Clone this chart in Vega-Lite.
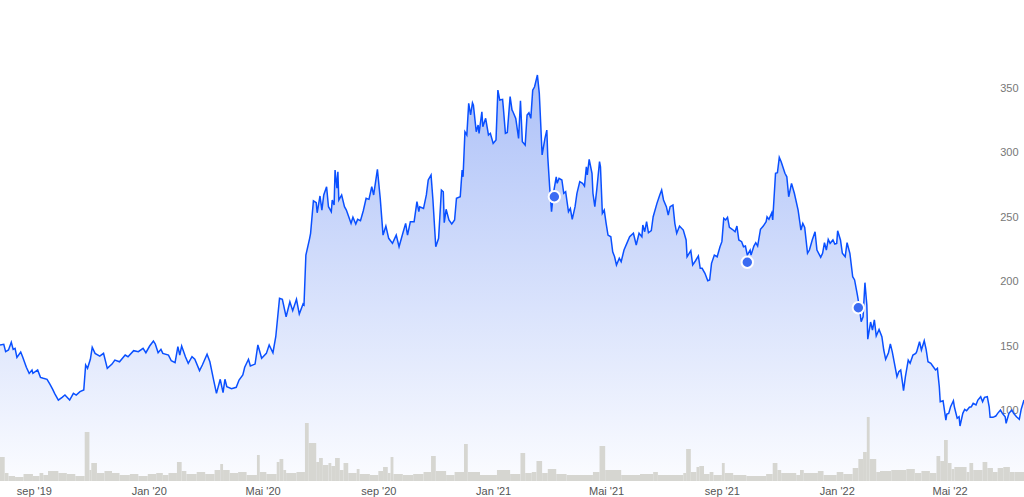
{
"$schema": "https://vega.github.io/schema/vega-lite/v6.json",
"width": 1024, "height": 481,
"autosize": {"type": "none"},
"padding": {"left": 0, "top": 0, "right": 0, "bottom": 16},
"background": "white",
"config": {"view": {"stroke": null}},
"datasets": {
"price": [
{"date":"2019-07-27","price":150.8},{"date":"2019-07-31","price":151.3},{"date":"2019-08-02","price":145.6},{"date":"2019-08-05","price":146.9},{"date":"2019-08-08","price":152.9},{"date":"2019-08-10","price":147.4},{"date":"2019-08-12","price":148.2},{"date":"2019-08-14","price":141.2},{"date":"2019-08-18","price":145.3},{"date":"2019-08-20","price":141.7},{"date":"2019-08-24","price":133.5},{"date":"2019-08-27","price":128.8},{"date":"2019-08-30","price":131.4},{"date":"2019-08-31","price":128.8},{"date":"2019-09-05","price":131.4},{"date":"2019-09-08","price":125.7},{"date":"2019-09-11","price":125.0},{"date":"2019-09-15","price":124.2},{"date":"2019-09-18","price":120.5},{"date":"2019-09-21","price":116.4},{"date":"2019-09-23","price":113.3},{"date":"2019-09-27","price":108.1},{"date":"2019-10-01","price":110.2},{"date":"2019-10-04","price":112.0},{"date":"2019-10-09","price":108.1},{"date":"2019-10-13","price":113.3},{"date":"2019-10-16","price":112.0},{"date":"2019-10-20","price":114.6},{"date":"2019-10-24","price":115.9},{"date":"2019-10-26","price":135.3},{"date":"2019-10-28","price":132.7},{"date":"2019-10-31","price":139.7},{"date":"2019-11-02","price":149.0},{"date":"2019-11-05","price":144.3},{"date":"2019-11-10","price":142.2},{"date":"2019-11-14","price":144.3},{"date":"2019-11-18","price":132.7},{"date":"2019-11-23","price":136.0},{"date":"2019-11-26","price":139.1},{"date":"2019-12-01","price":137.8},{"date":"2019-12-07","price":143.0},{"date":"2019-12-10","price":141.7},{"date":"2019-12-16","price":146.4},{"date":"2019-12-21","price":145.6},{"date":"2019-12-26","price":148.2},{"date":"2019-12-29","price":144.8},
{"date":"2020-01-02","price":150.0},{"date":"2020-01-06","price":153.9},{"date":"2020-01-08","price":151.6},{"date":"2020-01-11","price":144.8},{"date":"2020-01-14","price":147.4},{"date":"2020-01-16","price":144.3},{"date":"2020-01-22","price":143.0},{"date":"2020-01-25","price":138.6},{"date":"2020-01-29","price":137.1},{"date":"2020-02-01","price":149.5},{"date":"2020-02-03","price":143.0},{"date":"2020-02-05","price":150.0},{"date":"2020-02-09","price":141.7},{"date":"2020-02-12","price":136.6},{"date":"2020-02-16","price":141.7},{"date":"2020-02-19","price":139.7},{"date":"2020-02-24","price":130.9},{"date":"2020-02-27","price":135.3},{"date":"2020-03-03","price":143.6},{"date":"2020-03-06","price":137.8},{"date":"2020-03-10","price":123.6},{"date":"2020-03-13","price":113.3},{"date":"2020-03-17","price":124.2},{"date":"2020-03-20","price":113.8},{"date":"2020-03-22","price":124.2},{"date":"2020-03-24","price":118.4},{"date":"2020-03-29","price":116.9},{"date":"2020-04-03","price":118.0},{"date":"2020-04-06","price":123.6},{"date":"2020-04-10","price":127.5},{"date":"2020-04-12","price":133.5},{"date":"2020-04-16","price":139.7},{"date":"2020-04-18","price":134.5},{"date":"2020-04-23","price":136.0},{"date":"2020-04-26","price":150.8},{"date":"2020-04-30","price":140.5},{"date":"2020-05-05","price":144.3},{"date":"2020-05-08","price":150.8},{"date":"2020-05-12","price":144.8},{"date":"2020-05-15","price":157.2},{"date":"2020-05-19","price":187.0},{"date":"2020-05-22","price":186.2},{"date":"2020-05-26","price":172.7},{"date":"2020-05-30","price":184.3},{"date":"2020-06-02","price":177.4},{"date":"2020-06-06","price":186.2},{"date":"2020-06-09","price":174.8},{"date":"2020-06-13","price":182.6},{"date":"2020-06-14","price":181.8},{"date":"2020-06-16","price":220.5},{"date":"2020-06-20","price":233.5},{"date":"2020-06-21","price":237.4},{"date":"2020-06-24","price":262.6},{"date":"2020-06-27","price":261.1},{"date":"2020-06-28","price":253.3},{"date":"2020-07-01","price":266.3},{"date":"2020-07-03","price":255.4},{"date":"2020-07-05","price":267.1},{"date":"2020-07-08","price":273.5},{"date":"2020-07-10","price":258.0},{"date":"2020-07-13","price":254.1},{"date":"2020-07-14","price":263.2},{"date":"2020-07-16","price":259.3},{"date":"2020-07-17","price":286.4},{"date":"2020-07-19","price":272.3},{"date":"2020-07-20","price":285.1},{"date":"2020-07-21","price":263.2},{"date":"2020-07-24","price":267.1},{"date":"2020-07-27","price":258.0},{"date":"2020-07-29","price":255.4},{"date":"2020-08-03","price":245.1},{"date":"2020-08-05","price":249.8},{"date":"2020-08-08","price":244.6},{"date":"2020-08-10","price":248.2},{"date":"2020-08-13","price":247.1},{"date":"2020-08-16","price":254.9},{"date":"2020-08-19","price":264.5},{"date":"2020-08-22","price":263.7},{"date":"2020-08-25","price":273.5},{"date":"2020-08-27","price":267.1},{"date":"2020-08-31","price":287.0},{"date":"2020-09-03","price":264.5},{"date":"2020-09-06","price":236.0},{"date":"2020-09-09","price":243.0},{"date":"2020-09-12","price":233.5},{"date":"2020-09-16","price":229.6},{"date":"2020-09-20","price":236.0},{"date":"2020-09-23","price":227.0},{"date":"2020-09-27","price":237.4},{"date":"2020-09-30","price":245.1},{"date":"2020-10-02","price":236.0},{"date":"2020-10-05","price":246.4},{"date":"2020-10-09","price":246.4},{"date":"2020-10-12","price":261.9},{"date":"2020-10-14","price":254.1},{"date":"2020-10-15","price":258.0},{"date":"2020-10-19","price":256.7},{"date":"2020-10-22","price":267.1},{"date":"2020-10-24","price":278.7},{"date":"2020-10-27","price":282.6},{"date":"2020-10-29","price":263.2},{"date":"2020-11-01","price":227.0},{"date":"2020-11-04","price":233.5},{"date":"2020-11-07","price":270.9},{"date":"2020-11-09","price":269.6},{"date":"2020-11-10","price":245.6},{"date":"2020-11-12","price":256.0},{"date":"2020-11-15","price":247.7},{"date":"2020-11-18","price":244.6},{"date":"2020-11-21","price":247.7},{"date":"2020-11-23","price":264.5},{"date":"2020-11-27","price":265.7},{"date":"2020-11-29","price":286.4},{"date":"2020-11-30","price":281.2},{"date":"2020-12-02","price":316.1},{"date":"2020-12-04","price":313.6},{"date":"2020-12-06","price":338.1},{"date":"2020-12-08","price":329.1},{"date":"2020-12-10","price":338.6},{"date":"2020-12-11","price":336.8},{"date":"2020-12-14","price":316.1},{"date":"2020-12-16","price":321.3},{"date":"2020-12-17","price":314.9},{"date":"2020-12-20","price":331.6},{"date":"2020-12-21","price":320.0},{"date":"2020-12-24","price":326.5},{"date":"2020-12-27","price":313.6},{"date":"2020-12-29","price":314.9},
{"date":"2021-01-01","price":307.1},{"date":"2021-01-04","price":309.7},{"date":"2021-01-06","price":348.4},{"date":"2021-01-08","price":340.7},{"date":"2021-01-11","price":341.2},{"date":"2021-01-12","price":333.0},{"date":"2021-01-14","price":314.9},{"date":"2021-01-16","price":315.5},{"date":"2021-01-19","price":343.3},{"date":"2021-01-21","price":333.0},{"date":"2021-01-22","price":331.6},{"date":"2021-01-25","price":326.5},{"date":"2021-01-28","price":311.0},{"date":"2021-01-30","price":340.2},{"date":"2021-02-01","price":308.4},{"date":"2021-02-04","price":305.8},{"date":"2021-02-06","price":329.1},{"date":"2021-02-08","price":330.9},{"date":"2021-02-10","price":326.5},{"date":"2021-02-12","price":348.4},{"date":"2021-02-14","price":351.0},{"date":"2021-02-17","price":360.1},{"date":"2021-02-19","price":345.9},{"date":"2021-02-20","price":330.4},{"date":"2021-02-22","price":298.1},{"date":"2021-02-25","price":311.0},{"date":"2021-02-27","price":317.4},{"date":"2021-02-28","price":296.7},{"date":"2021-03-02","price":273.5},{"date":"2021-03-04","price":254.1},{"date":"2021-03-06","price":268.4},{"date":"2021-03-09","price":281.2},{"date":"2021-03-10","price":276.1},{"date":"2021-03-12","price":280.0},{"date":"2021-03-15","price":278.7},{"date":"2021-03-17","price":268.4},{"date":"2021-03-19","price":269.6},{"date":"2021-03-22","price":254.1},{"date":"2021-03-24","price":256.7},{"date":"2021-03-26","price":248.2},{"date":"2021-03-29","price":258.0},{"date":"2021-03-31","price":268.4},{"date":"2021-04-03","price":277.4},{"date":"2021-04-06","price":276.1},{"date":"2021-04-08","price":274.0},{"date":"2021-04-10","price":289.0},{"date":"2021-04-11","price":282.6},{"date":"2021-04-13","price":294.7},{"date":"2021-04-16","price":283.9},{"date":"2021-04-17","price":268.4},{"date":"2021-04-19","price":258.0},{"date":"2021-04-21","price":270.9},{"date":"2021-04-24","price":292.9},{"date":"2021-04-25","price":289.0},{"date":"2021-04-27","price":252.9},{"date":"2021-04-29","price":255.4},{"date":"2021-05-01","price":245.1},{"date":"2021-05-03","price":236.0},{"date":"2021-05-06","price":234.7},{"date":"2021-05-08","price":223.1},{"date":"2021-05-10","price":219.2},{"date":"2021-05-12","price":212.8},{"date":"2021-05-15","price":218.0},{"date":"2021-05-17","price":215.4},{"date":"2021-05-20","price":224.4},{"date":"2021-05-23","price":229.6},{"date":"2021-05-26","price":234.7},{"date":"2021-05-30","price":237.4},{"date":"2021-06-02","price":228.3},{"date":"2021-06-05","price":237.4},{"date":"2021-06-08","price":234.7},{"date":"2021-06-09","price":243.8},{"date":"2021-06-11","price":238.6},{"date":"2021-06-13","price":246.4},{"date":"2021-06-15","price":237.8},{"date":"2021-06-18","price":239.4},{"date":"2021-06-20","price":250.2},{"date":"2021-06-24","price":260.6},{"date":"2021-06-27","price":267.1},{"date":"2021-06-29","price":270.9},{"date":"2021-07-01","price":263.2},{"date":"2021-07-04","price":258.0},{"date":"2021-07-06","price":251.6},{"date":"2021-07-08","price":258.0},{"date":"2021-07-11","price":259.3},{"date":"2021-07-13","price":245.1},{"date":"2021-07-15","price":237.4},{"date":"2021-07-18","price":243.0},{"date":"2021-07-22","price":239.9},{"date":"2021-07-25","price":232.2},{"date":"2021-07-26","price":219.2},{"date":"2021-07-30","price":223.9},{"date":"2021-08-01","price":212.8},{"date":"2021-08-04","price":216.1},{"date":"2021-08-07","price":219.8},{"date":"2021-08-09","price":210.2},{"date":"2021-08-11","price":210.2},{"date":"2021-08-14","price":206.4},{"date":"2021-08-17","price":200.6},{"date":"2021-08-19","price":201.2},{"date":"2021-08-21","price":214.1},{"date":"2021-08-24","price":220.5},{"date":"2021-08-27","price":219.2},{"date":"2021-08-30","price":227.0},{"date":"2021-09-01","price":230.9},{"date":"2021-09-03","price":249.0},{"date":"2021-09-05","price":247.7},{"date":"2021-09-07","price":249.8},{"date":"2021-09-09","price":242.0},{"date":"2021-09-12","price":240.5},{"date":"2021-09-15","price":238.6},{"date":"2021-09-17","price":243.0},{"date":"2021-09-19","price":232.2},{"date":"2021-09-22","price":230.9},{"date":"2021-09-24","price":227.0},{"date":"2021-09-26","price":227.5},{"date":"2021-09-28","price":220.5},{"date":"2021-10-01","price":224.4},{"date":"2021-10-02","price":220.5},{"date":"2021-10-05","price":227.5},{"date":"2021-10-07","price":230.1},{"date":"2021-10-09","price":227.5},{"date":"2021-10-12","price":240.5},{"date":"2021-10-15","price":243.0},{"date":"2021-10-18","price":246.4},{"date":"2021-10-19","price":250.2},{"date":"2021-10-21","price":248.2},{"date":"2021-10-24","price":253.3},{"date":"2021-10-25","price":247.7},{"date":"2021-10-28","price":283.9},{"date":"2021-10-30","price":284.3},{"date":"2021-11-01","price":296.3},{"date":"2021-11-03","price":292.9},{"date":"2021-11-07","price":283.9},{"date":"2021-11-09","price":281.2},{"date":"2021-11-11","price":265.7},{"date":"2021-11-14","price":276.1},{"date":"2021-11-17","price":268.4},{"date":"2021-11-21","price":255.4},{"date":"2021-11-24","price":239.9},{"date":"2021-11-26","price":245.1},{"date":"2021-11-28","price":242.0},{"date":"2021-12-01","price":221.9},{"date":"2021-12-03","price":224.4},{"date":"2021-12-06","price":232.2},{"date":"2021-12-09","price":238.6},{"date":"2021-12-11","price":224.4},{"date":"2021-12-15","price":218.8},{"date":"2021-12-17","price":221.9},{"date":"2021-12-19","price":230.1},{"date":"2021-12-21","price":224.4},{"date":"2021-12-23","price":232.7},{"date":"2021-12-25","price":229.6},{"date":"2021-12-28","price":232.2},{"date":"2021-12-30","price":229.1},
{"date":"2022-01-01","price":229.6},{"date":"2022-01-02","price":239.4},{"date":"2022-01-05","price":232.2},{"date":"2022-01-07","price":221.9},{"date":"2022-01-10","price":219.2},{"date":"2022-01-12","price":230.1},{"date":"2022-01-15","price":221.9},{"date":"2022-01-18","price":203.7},{"date":"2022-01-20","price":201.2},{"date":"2022-01-23","price":189.5},{"date":"2022-01-25","price":180.5},{"date":"2022-01-27","price":168.8},{"date":"2022-01-29","price":172.7},{"date":"2022-01-31","price":199.1},{"date":"2022-02-02","price":181.8},{"date":"2022-02-03","price":155.3},{"date":"2022-02-06","price":168.6},{"date":"2022-02-08","price":162.4},{"date":"2022-02-10","price":170.2},{"date":"2022-02-12","price":157.8},{"date":"2022-02-15","price":162.9},{"date":"2022-02-18","price":157.2},{"date":"2022-02-20","price":146.9},{"date":"2022-02-22","price":139.7},{"date":"2022-02-25","price":144.8},{"date":"2022-02-27","price":151.6},{"date":"2022-03-01","price":145.6},{"date":"2022-03-04","price":134.0},{"date":"2022-03-06","price":126.2},{"date":"2022-03-08","price":130.1},{"date":"2022-03-10","price":131.4},{"date":"2022-03-12","price":121.1},{"date":"2022-03-13","price":115.3},{"date":"2022-03-15","price":126.2},{"date":"2022-03-18","price":139.1},{"date":"2022-03-20","price":136.6},{"date":"2022-03-23","price":143.0},{"date":"2022-03-26","price":144.3},{"date":"2022-03-27","price":145.6},{"date":"2022-03-30","price":153.3},{"date":"2022-04-01","price":146.9},{"date":"2022-04-04","price":154.1},{"date":"2022-04-06","price":147.4},{"date":"2022-04-08","price":137.8},{"date":"2022-04-11","price":136.6},{"date":"2022-04-13","price":134.5},{"date":"2022-04-16","price":131.4},{"date":"2022-04-18","price":132.7},{"date":"2022-04-20","price":118.4},{"date":"2022-04-21","price":106.8},{"date":"2022-04-24","price":107.6},{"date":"2022-04-27","price":92.6},{"date":"2022-04-28","price":97.3},{"date":"2022-04-30","price":97.8},{"date":"2022-05-02","price":102.9},{"date":"2022-05-05","price":107.6},{"date":"2022-05-06","price":102.9},{"date":"2022-05-09","price":94.0},{"date":"2022-05-11","price":95.2},{"date":"2022-05-12","price":88.0},{"date":"2022-05-15","price":97.8},{"date":"2022-05-17","price":100.9},{"date":"2022-05-19","price":99.8},{"date":"2022-05-22","price":102.5},{"date":"2022-05-24","price":102.9},{"date":"2022-05-26","price":105.6},{"date":"2022-05-29","price":104.3},{"date":"2022-05-31","price":108.1},{"date":"2022-06-03","price":110.7},{"date":"2022-06-05","price":106.8},{"date":"2022-06-07","price":110.2},{"date":"2022-06-10","price":110.7},{"date":"2022-06-12","price":102.9},{"date":"2022-06-13","price":94.7},{"date":"2022-06-16","price":94.7},{"date":"2022-06-19","price":95.7},{"date":"2022-06-21","price":97.8},{"date":"2022-06-24","price":100.4},{"date":"2022-06-26","price":97.8},{"date":"2022-06-29","price":95.2},{"date":"2022-06-30","price":90.1},{"date":"2022-07-03","price":97.8},{"date":"2022-07-06","price":100.4},{"date":"2022-07-08","price":97.8},{"date":"2022-07-11","price":95.2},{"date":"2022-07-14","price":93.2},{"date":"2022-07-16","price":100.9},{"date":"2022-07-19","price":108.1}
],
"volume": [
{"start":"2019-07-27","end":"2019-08-01","volume":6},{"start":"2019-08-01","end":"2019-08-05","volume":2},{"start":"2019-08-05","end":"2019-08-12","volume":1.25},{"start":"2019-08-12","end":"2019-08-21","volume":1},{"start":"2019-08-21","end":"2019-08-31","volume":1.75},{"start":"2019-08-31","end":"2019-09-07","volume":1.25},{"start":"2019-09-07","end":"2019-09-11","volume":2},{"start":"2019-09-11","end":"2019-09-16","volume":1.5},{"start":"2019-09-16","end":"2019-09-27","volume":2.5},{"start":"2019-09-27","end":"2019-10-06","volume":2},{"start":"2019-10-06","end":"2019-10-15","volume":1.75},{"start":"2019-10-15","end":"2019-10-25","volume":1.25},{"start":"2019-10-25","end":"2019-10-30","volume":12.25},{"start":"2019-10-30","end":"2019-11-01","volume":2.75},{"start":"2019-11-01","end":"2019-11-07","volume":4.5},{"start":"2019-11-07","end":"2019-11-15","volume":2},{"start":"2019-11-15","end":"2019-11-23","volume":2.5},{"start":"2019-11-23","end":"2019-12-01","volume":2},{"start":"2019-12-01","end":"2019-12-12","volume":1.5},{"start":"2019-12-12","end":"2019-12-21","volume":1.75},{"start":"2019-12-21","end":"2019-12-31","volume":1.25},{"start":"2019-12-31","end":"2020-01-09","volume":1.75},{"start":"2020-01-09","end":"2020-01-16","volume":2},{"start":"2020-01-16","end":"2020-01-22","volume":1.5},{"start":"2020-01-22","end":"2020-01-31","volume":2},{"start":"2020-01-31","end":"2020-02-05","volume":4.75},{"start":"2020-02-05","end":"2020-02-10","volume":2.5},{"start":"2020-02-10","end":"2020-02-21","volume":1.75},{"start":"2020-02-21","end":"2020-03-01","volume":2.25},{"start":"2020-03-01","end":"2020-03-11","volume":1.75},{"start":"2020-03-11","end":"2020-03-17","volume":2.75},{"start":"2020-03-17","end":"2020-03-20","volume":4.25},{"start":"2020-03-20","end":"2020-03-27","volume":2.75},{"start":"2020-03-27","end":"2020-04-05","volume":2},{"start":"2020-04-05","end":"2020-04-14","volume":2.25},{"start":"2020-04-14","end":"2020-04-25","volume":1.5},{"start":"2020-04-25","end":"2020-04-28","volume":6.5},{"start":"2020-04-28","end":"2020-05-05","volume":2.25},{"start":"2020-05-05","end":"2020-05-16","volume":1.75},{"start":"2020-05-16","end":"2020-05-19","volume":4.75},{"start":"2020-05-19","end":"2020-05-23","volume":5.5},{"start":"2020-05-23","end":"2020-05-26","volume":2.75},{"start":"2020-05-26","end":"2020-06-06","volume":2},{"start":"2020-06-06","end":"2020-06-15","volume":2.25},{"start":"2020-06-15","end":"2020-06-19","volume":14.5},{"start":"2020-06-19","end":"2020-06-27","volume":9.5},{"start":"2020-06-27","end":"2020-06-30","volume":4.75},{"start":"2020-06-30","end":"2020-07-04","volume":5.75},{"start":"2020-07-04","end":"2020-07-10","volume":4},{"start":"2020-07-10","end":"2020-07-13","volume":4.5},{"start":"2020-07-13","end":"2020-07-17","volume":3.75},{"start":"2020-07-17","end":"2020-07-22","volume":5.75},{"start":"2020-07-22","end":"2020-07-26","volume":2.75},{"start":"2020-07-26","end":"2020-07-31","volume":4.5},{"start":"2020-07-31","end":"2020-08-09","volume":2},{"start":"2020-08-09","end":"2020-08-12","volume":3},{"start":"2020-08-12","end":"2020-08-23","volume":1.75},{"start":"2020-08-23","end":"2020-09-01","volume":1.5},{"start":"2020-09-01","end":"2020-09-06","volume":2.5},{"start":"2020-09-06","end":"2020-09-11","volume":3.5},{"start":"2020-09-11","end":"2020-09-14","volume":2},{"start":"2020-09-14","end":"2020-09-17","volume":6},{"start":"2020-09-17","end":"2020-09-27","volume":1.75},{"start":"2020-09-27","end":"2020-10-08","volume":1.5},{"start":"2020-10-08","end":"2020-10-19","volume":1.75},{"start":"2020-10-19","end":"2020-10-27","volume":2.25},{"start":"2020-10-27","end":"2020-11-01","volume":6.25},{"start":"2020-11-01","end":"2020-11-12","volume":2.5},{"start":"2020-11-12","end":"2020-11-21","volume":1.5},{"start":"2020-11-21","end":"2020-12-01","volume":2.25},{"start":"2020-12-01","end":"2020-12-05","volume":9.25},{"start":"2020-12-05","end":"2020-12-18","volume":2.25},{"start":"2020-12-18","end":"2021-01-05","volume":1.5},{"start":"2021-01-05","end":"2021-01-19","volume":2.75},{"start":"2021-01-19","end":"2021-01-30","volume":1.75},{"start":"2021-01-30","end":"2021-02-04","volume":7},{"start":"2021-02-04","end":"2021-02-11","volume":2},{"start":"2021-02-11","end":"2021-02-16","volume":2.25},{"start":"2021-02-16","end":"2021-02-22","volume":5},{"start":"2021-02-22","end":"2021-02-28","volume":2},{"start":"2021-02-28","end":"2021-03-09","volume":3},{"start":"2021-03-09","end":"2021-03-20","volume":1.75},{"start":"2021-03-20","end":"2021-04-17","volume":1.5},{"start":"2021-04-17","end":"2021-04-24","volume":2.25},{"start":"2021-04-24","end":"2021-04-30","volume":8.75},{"start":"2021-04-30","end":"2021-05-17","volume":2.75},{"start":"2021-05-17","end":"2021-06-06","volume":1.5},{"start":"2021-06-06","end":"2021-06-20","volume":1.75},{"start":"2021-06-20","end":"2021-06-25","volume":2.25},{"start":"2021-06-25","end":"2021-07-22","volume":1.5},{"start":"2021-07-22","end":"2021-07-25","volume":2},{"start":"2021-07-25","end":"2021-07-30","volume":8},{"start":"2021-07-30","end":"2021-08-05","volume":2.25},{"start":"2021-08-05","end":"2021-08-08","volume":3.5},{"start":"2021-08-08","end":"2021-08-13","volume":3.75},{"start":"2021-08-13","end":"2021-08-19","volume":1.75},{"start":"2021-08-19","end":"2021-08-23","volume":2.25},{"start":"2021-08-23","end":"2021-09-01","volume":1.5},{"start":"2021-09-01","end":"2021-09-04","volume":4.5},{"start":"2021-09-04","end":"2021-09-13","volume":2},{"start":"2021-09-13","end":"2021-09-27","volume":1.5},{"start":"2021-09-27","end":"2021-10-18","volume":1.25},{"start":"2021-10-18","end":"2021-10-25","volume":1.75},{"start":"2021-10-25","end":"2021-10-30","volume":4.5},{"start":"2021-10-30","end":"2021-11-03","volume":2.75},{"start":"2021-11-03","end":"2021-11-19","volume":2},{"start":"2021-11-19","end":"2021-11-23","volume":1.5},{"start":"2021-11-23","end":"2021-11-27","volume":2.75},{"start":"2021-11-27","end":"2021-12-12","volume":2},{"start":"2021-12-12","end":"2021-12-18","volume":2.5},{"start":"2021-12-18","end":"2022-01-01","volume":1.5},{"start":"2022-01-01","end":"2022-01-08","volume":2.25},{"start":"2022-01-08","end":"2022-01-18","volume":1.75},{"start":"2022-01-18","end":"2022-01-24","volume":3.25},{"start":"2022-01-24","end":"2022-01-29","volume":5.5},{"start":"2022-01-29","end":"2022-02-02","volume":7.25},{"start":"2022-02-02","end":"2022-02-05","volume":16},{"start":"2022-02-05","end":"2022-02-12","volume":5.5},{"start":"2022-02-12","end":"2022-02-16","volume":2.25},{"start":"2022-02-16","end":"2022-02-28","volume":2.5},{"start":"2022-02-28","end":"2022-03-16","volume":2.75},{"start":"2022-03-16","end":"2022-03-25","volume":3},{"start":"2022-03-25","end":"2022-04-01","volume":2},{"start":"2022-04-01","end":"2022-04-10","volume":2.5},{"start":"2022-04-10","end":"2022-04-17","volume":2},{"start":"2022-04-17","end":"2022-04-21","volume":6.25},{"start":"2022-04-21","end":"2022-04-25","volume":5},{"start":"2022-04-25","end":"2022-04-29","volume":10.25},{"start":"2022-04-29","end":"2022-05-03","volume":4.5},{"start":"2022-05-03","end":"2022-05-06","volume":3},{"start":"2022-05-06","end":"2022-05-19","volume":3.5},{"start":"2022-05-19","end":"2022-05-22","volume":2.25},{"start":"2022-05-22","end":"2022-05-26","volume":4.5},{"start":"2022-05-26","end":"2022-06-05","volume":2.75},{"start":"2022-06-05","end":"2022-06-10","volume":4.75},{"start":"2022-06-10","end":"2022-06-16","volume":3.25},{"start":"2022-06-16","end":"2022-06-21","volume":2.25},{"start":"2022-06-21","end":"2022-06-27","volume":3.25},{"start":"2022-06-27","end":"2022-07-04","volume":3.5},{"start":"2022-07-04","end":"2022-07-09","volume":2.25},{"start":"2022-07-09","end":"2022-07-19","volume":2.25}
],
"markers": [
{"date":"2021-03-07","price":265.7},{"date":"2021-09-28","price":214.9},{"date":"2022-01-24","price":179.7}
]
},
"layer": [
{
"data": {"name": "price"},
"mark": {"type": "area", "line": false, "color": {"gradient": "linear", "x1": 0, "y1": 0, "x2": 0, "y2": 1, "stops": [{"offset": 0, "color": "#adc1f8"}, {"offset": 1, "color": "#fbfcff"}]}},
"encoding": {
"x": {"field": "date", "type": "temporal", "scale": {"type": "utc", "padding": 0, "domain": [{"year": 2019, "month": 7, "date": 27, "utc": true}, {"year": 2022, "month": 7, "date": 19, "utc": true}]},
"axis": {"values": [{"year": 2019, "month": 9, "date": 1, "utc": true}, {"year": 2020, "month": 1, "date": 1, "utc": true}, {"year": 2020, "month": 5, "date": 1, "utc": true}, {"year": 2020, "month": 9, "date": 1, "utc": true}, {"year": 2021, "month": 1, "date": 1, "utc": true}, {"year": 2021, "month": 5, "date": 1, "utc": true}, {"year": 2021, "month": 9, "date": 1, "utc": true}, {"year": 2022, "month": 1, "date": 1, "utc": true}, {"year": 2022, "month": 5, "date": 1, "utc": true}],
"labelExpr": "(utcmonth(datum.value) == 8 ? 'sep' : utcmonth(datum.value) == 0 ? 'Jan' : 'Mai') + \" '\" + utcFormat(datum.value, '%y')",
"title": null, "ticks": false, "tickSize": 0, "domain": false, "grid": false, "labelPadding": 4, "labelFlush": false, "labelFont": "Liberation Sans", "labelFontSize": 11, "labelColor": "#555555"}},
"y": {"field": "price", "type": "quantitative", "stack": null, "scale": {"domain": [45.35, 418.25], "nice": false, "zero": false},
"axis": {"orient": "right", "values": [100, 150, 200, 250, 300, 350], "title": null, "ticks": false, "tickSize": 0, "domain": false, "grid": false, "labelAlign": "right", "labelBaseline": "middle", "labelPadding": -6, "labelFont": "Liberation Sans", "labelFontSize": 11, "labelColor": "#777777"}}
}
},
{
"data": {"name": "volume"},
"mark": {"type": "bar", "color": "#d6d6d1", "orient": "vertical"},
"encoding": {
"x": {"field": "start", "type": "temporal", "scale": {"type": "utc", "padding": 0, "domain": [{"year": 2019, "month": 7, "date": 27, "utc": true}, {"year": 2022, "month": 7, "date": 19, "utc": true}]}},
"x2": {"field": "end"},
"y": {"field": "volume", "type": "quantitative", "scale": {"domain": [0, 120.25], "nice": false}, "axis": null},
"y2": {"datum": 0}
}
},
{
"data": {"name": "price"},
"mark": {"type": "line", "color": "#0a50ff", "strokeWidth": 1.5},
"encoding": {
"x": {"field": "date", "type": "temporal", "scale": {"type": "utc", "padding": 0, "domain": [{"year": 2019, "month": 7, "date": 27, "utc": true}, {"year": 2022, "month": 7, "date": 19, "utc": true}]}},
"y": {"field": "price", "type": "quantitative", "scale": {"domain": [45.35, 418.25], "nice": false, "zero": false}, "axis": null}
}
},
{
"data": {"name": "markers"},
"mark": {"type": "point", "filled": true, "fill": "#3b6cf2", "stroke": "#ffffff", "strokeWidth": 2, "size": 130, "opacity": 1},
"encoding": {
"x": {"field": "date", "type": "temporal", "scale": {"type": "utc", "padding": 0, "domain": [{"year": 2019, "month": 7, "date": 27, "utc": true}, {"year": 2022, "month": 7, "date": 19, "utc": true}]}},
"y": {"field": "price", "type": "quantitative", "scale": {"domain": [45.35, 418.25], "nice": false, "zero": false}, "axis": null}
}
}
],
"resolve": {"scale": {"y": "independent"}}
}
